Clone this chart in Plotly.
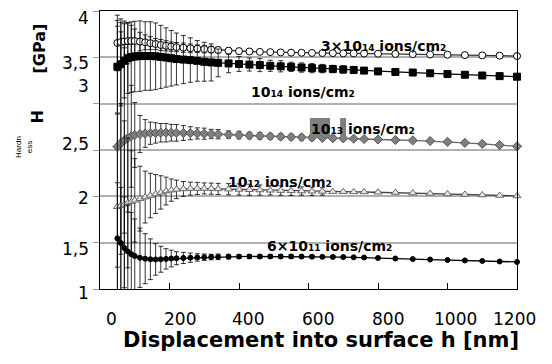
import plotly.graph_objects as go

# ---------------- data ----------------
h_nm = [50, 60, 70, 80, 90, 100, 115, 130, 145, 160, 175, 190, 205, 220, 240, 260, 280, 300, 320, 340,
        370, 400, 430, 460, 490, 520, 550, 580, 610, 640, 670, 700, 730, 760, 800, 850, 900, 950,
        1000, 1050, 1100, 1150, 1200]

H_3e14 = [3.655, 3.665, 3.671, 3.675, 3.676, 3.676, 3.670, 3.662, 3.653, 3.644, 3.633, 3.624, 3.616, 3.610,
          3.604, 3.599, 3.594, 3.589, 3.584, 3.579, 3.572, 3.567, 3.563, 3.559, 3.556, 3.553, 3.551, 3.549,
          3.547, 3.546, 3.545, 3.543, 3.542, 3.541, 3.539, 3.537, 3.534, 3.531, 3.528, 3.524, 3.521, 3.518, 3.514]
E_3e14 = [0.30, 0.25, 0.22, 0.20, 0.17, 0.13, 0.10, 0.08, 0.07, 0.06, 0.06, 0.055, 0.05, 0.05,
          0.05, 0.045, 0.04, 0.04, 0.035, 0.03, 0.03, 0.03, 0, 0, 0, 0, 0, 0,
          0, 0, 0, 0, 0, 0, 0, 0, 0, 0, 0, 0, 0, 0, 0]

H_1e14 = [3.399, 3.425, 3.462, 3.490, 3.502, 3.509, 3.513, 3.514, 3.514, 3.511, 3.505, 3.498, 3.490, 3.482,
          3.476, 3.470, 3.462, 3.452, 3.445, 3.440, 3.434, 3.428, 3.422, 3.416, 3.409, 3.403, 3.397, 3.390,
          3.384, 3.379, 3.374, 3.369, 3.364, 3.357, 3.348, 3.342, 3.336, 3.328, 3.320, 3.312, 3.304, 3.297, 3.291]
E_1e14 = [0.50, 0.45, 0.40, 0.38, 0.38, 0.38, 0.38, 0.37, 0.37, 0.36, 0.34, 0.32, 0.30, 0.28,
          0.26, 0.24, 0.22, 0.21, 0.20, 0.15, 0.10, 0.08, 0.07, 0.07, 0.06, 0.06, 0.05, 0.05,
          0.05, 0.045, 0.04, 0.04, 0.035, 0.03, 0.03, 0, 0, 0, 0, 0, 0, 0, 0]

H_1e13 = [2.536, 2.575, 2.603, 2.630, 2.648, 2.662, 2.672, 2.678, 2.681, 2.684, 2.686, 2.687, 2.686, 2.685,
          2.683, 2.681, 2.679, 2.676, 2.673, 2.670, 2.666, 2.661, 2.656, 2.652, 2.648, 2.644, 2.640, 2.637,
          2.634, 2.631, 2.628, 2.625, 2.622, 2.618, 2.613, 2.608, 2.603, 2.597, 2.588, 2.577, 2.566, 2.554, 2.540]
E_1e13 = [1.30, 1.20, 1.00, 0.80, 0.55, 0.35, 0.20, 0.15, 0.12, 0.11, 0.10, 0.10, 0.09, 0.09,
          0.08, 0.07, 0.06, 0.06, 0.05, 0.05, 0.04, 0.04, 0.035, 0.035, 0.03, 0.03, 0.03, 0.03,
          0.03, 0.025, 0.025, 0.02, 0, 0, 0, 0, 0, 0, 0, 0, 0, 0, 0]

H_1e12 = [1.888, 1.900, 1.914, 1.928, 1.942, 1.957, 1.975, 1.992, 2.009, 2.025, 2.042, 2.057, 2.067, 2.075,
          2.080, 2.083, 2.085, 2.085, 2.083, 2.080, 2.077, 2.074, 2.071, 2.068, 2.065, 2.062, 2.059, 2.057,
          2.055, 2.053, 2.051, 2.050, 2.048, 2.047, 2.044, 2.041, 2.036, 2.031, 2.026, 2.020, 2.015, 2.009, 2.004]
E_1e12 = [1.00, 1.10, 0.90, 0.70, 0.55, 0.45, 0.35, 0.28, 0.24, 0.21, 0.18, 0.15, 0.12, 0.10,
          0.08, 0.07, 0.065, 0.06, 0.06, 0.06, 0.06, 0.06, 0.06, 0.055, 0.05, 0.05, 0.05, 0.045,
          0.045, 0.04, 0, 0, 0, 0, 0, 0, 0, 0, 0, 0, 0, 0, 0]

H_6e11 = [1.547, 1.496, 1.443, 1.405, 1.376, 1.356, 1.337, 1.327, 1.321, 1.319, 1.321, 1.325, 1.329, 1.332,
          1.335, 1.338, 1.341, 1.343, 1.345, 1.347, 1.349, 1.350, 1.351, 1.351, 1.351, 1.351, 1.351, 1.350,
          1.349, 1.347, 1.346, 1.344, 1.342, 1.340, 1.335, 1.329, 1.323, 1.318, 1.313, 1.308, 1.303, 1.297, 1.292]
E_6e11 = [0.60, 0.60, 0.55, 0.50, 0.45, 0.40, 0.32, 0.27, 0.22, 0.17, 0.14, 0.11, 0.09, 0.07,
          0.06, 0.05, 0.04, 0.035, 0.03, 0.03, 0.025, 0.02, 0.02, 0.02, 0.02, 0.02, 0.02, 0.015,
          0.015, 0.015, 0.01, 0.01, 0, 0, 0, 0, 0, 0, 0, 0, 0, 0, 0]

y_tick_text = ["4", "3,5", "3", "2,5", "2", "1,5", "1"]
y_tick_at = [0.975, 0.813, 0.732, 0.522, 0.326, 0.144, -0.014]   # fraction of plot height
x_tick_text = ["0", "200", "400", "600", "800", "1000", "1200"]
x_tick_at = [34, 230, 426, 627, 829, 1022, 1194]

SUB = "<span style='font-size:9px'>{}</span>"
series_labels = ["3×10" + SUB.format("14") + " ions/cm" + SUB.format("2"),
                 "10" + SUB.format("14") + " ions/cm" + SUB.format("2"),
                 "10" + SUB.format("13") + " ions/cm" + SUB.format("2"),
                 "10" + SUB.format("12") + " ions/cm" + SUB.format("2"),
                 "6×10" + SUB.format("11") + " ions/cm" + SUB.format("2")]
label_x = [816, 584, 758, 518, 660]
label_y = [3.622, 3.126, 2.727, 2.155, 1.464]

FONT = "DejaVu Sans"
BLACK = "black"

fig = go.Figure()

def add_series(y, err, msym, msize, mfill, mline, lcolor):
    fig.add_trace(go.Scatter(
        x=h_nm, y=y, mode="lines+markers",
        line=dict(color=lcolor, width=1.3),
        marker=dict(symbol=msym, size=msize, color=mfill, line=dict(color=mline, width=1)),
        error_y=dict(type="data", array=err, visible=True, color="black", thickness=0.8, width=2.5),
        showlegend=False, cliponaxis=False))

add_series(H_3e14, E_3e14, "circle", 7, "white", "black", "#333333")
add_series(H_1e14, E_1e14, "square", 7, "black", "black", "black")
add_series(H_1e13, E_1e13, "diamond", 7, "#7f7f7f", "#555555", "#666666")
add_series(H_1e12, E_1e12, "triangle-up", 7, "#e8e8e8", "#666666", "#444444")
add_series(H_6e11, E_6e11, "circle", 5, "black", "black", "black")

# gray highlight boxes behind the 10^13 label
fig.add_shape(type="rect", x0=604, x1=662, y0=2.63, y1=2.845, xref="x", yref="y",
              fillcolor="#7f7f7f", line=dict(width=0), layer="above")
fig.add_shape(type="rect", x0=691, x1=708, y0=2.63, y1=2.845, xref="x", yref="y",
              fillcolor="#7f7f7f", line=dict(width=0), layer="above")

for t, v in zip(y_tick_text, y_tick_at):
    fig.add_annotation(text=t, x=0, xref="paper", xanchor="right", xshift=-10, y=v, yref="paper",
                       yanchor="middle", showarrow=False, borderpad=0,
                       font=dict(family=FONT, size=17, color=BLACK))
for t, v in zip(x_tick_text, x_tick_at):
    fig.add_annotation(text=t, x=v, xref="x", xanchor="center", y=0, yref="paper", yanchor="middle",
                       yshift=-30, showarrow=False, font=dict(family=FONT, size=17, color=BLACK))
for t, xv, yv in zip(series_labels, label_x, label_y):
    fig.add_annotation(text="<b>" + t + "</b>", x=xv, y=yv, xref="x", yref="y", xanchor="center",
                       yanchor="middle", showarrow=False, font=dict(family=FONT, size=14, color=BLACK))

fig.add_annotation(text="<b>Displacement into surface h [nm]</b>", x=0.53, xref="paper", xanchor="center",
                   y=0, yref="paper", yanchor="middle", yshift=-51, showarrow=False,
                   font=dict(family=FONT, size=21, color=BLACK))
fig.add_annotation(text="<b>[GPa]</b>", textangle=-90, x=-0.144, y=0.865, xref="paper", yref="paper",
                   xanchor="center", yanchor="middle", showarrow=False,
                   font=dict(family=FONT, size=16, color=BLACK))
fig.add_annotation(text="<b>H</b>", textangle=-90, x=-0.149, y=0.62, xref="paper", yref="paper",
                   xanchor="center", yanchor="middle", showarrow=False,
                   font=dict(family=FONT, size=16, color=BLACK))
fig.add_annotation(text="Hardn<br>ess", textangle=-90, x=-0.183, y=0.51, xref="paper", yref="paper",
                   xanchor="center", yanchor="middle", showarrow=False,
                   font=dict(family="Liberation Sans", size=8, color=BLACK))

fig.update_layout(
    width=544, height=356,
    margin=dict(l=92, r=35, t=3, b=75),
    paper_bgcolor="white", plot_bgcolor="white",
    xaxis=dict(range=[0, 1200], tickvals=[0, 200, 400, 600, 800, 1000, 1200], showticklabels=False,
               ticks="inside", ticklen=6, tickcolor="black", showgrid=False, zeroline=False,
               showline=True, linecolor="black", linewidth=1.2, mirror=True),
    yaxis=dict(range=[1, 4], tickvals=[1, 1.5, 2, 2.5, 3, 3.5, 4], showticklabels=False,
               ticks="outside", ticklen=6, tickcolor="#999999", showgrid=True, gridcolor="#b0b0b0",
               gridwidth=1.5, zeroline=False, showline=True, linecolor="black", linewidth=1.2, mirror=True),
)

fig.write_html("out.html")
